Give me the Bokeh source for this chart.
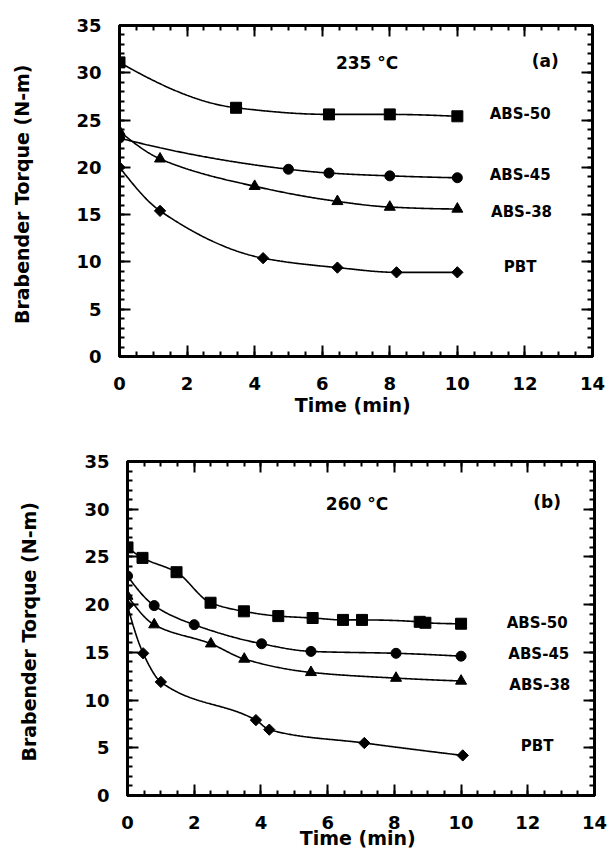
import numpy as np
from bokeh.plotting import figure
from bokeh.models import (Range1d, SingleIntervalTicker, LinearAxis, Label,
                          CustomJSTickFormatter)
from bokeh.embed import file_html
from bokeh.resources import INLINE

# ---------------- data ----------------
# (a) 235 °C
t50a = [0.0, 3.45, 6.2, 8.0, 10.0]
y50a = [31.1, 26.3, 25.6, 25.6, 25.4]
t45a = [0.0, 5.0, 6.2, 8.0, 10.0]
y45a = [23.1, 19.8, 19.4, 19.1, 18.9]
t38a = [0.0, 1.2, 4.0, 6.45, 8.0, 10.0]
y38a = [23.8, 20.9, 18.0, 16.4, 15.8, 15.6]
tpba = [0.0, 1.2, 4.25, 6.45, 8.2, 10.0]
ypba = [20.0, 15.4, 10.4, 9.4, 8.9, 8.9]

# (b) 260 °C
t50b = [0.0, 0.45, 1.47, 2.49, 3.49, 4.52, 5.55, 6.46, 7.03, 8.76, 8.93, 10.0]
y50b = [26.0, 24.9, 23.4, 20.2, 19.3, 18.8, 18.6, 18.4, 18.4, 18.2, 18.1, 18.0]
t45b = [0.0, 0.8, 2.0, 4.02, 5.5, 8.05, 10.0]
y45b = [23.0, 19.9, 17.9, 15.9, 15.1, 14.9, 14.6]
t38b = [0.0, 0.8, 2.5, 3.5, 5.5, 8.05, 10.0]
y38b = [20.9, 17.9, 15.9, 14.3, 12.9, 12.3, 12.0]
tpbb = [0.0, 0.47, 1.0, 3.85, 4.25, 7.1, 10.05]
ypbb = [19.9, 14.9, 11.9, 7.9, 6.9, 5.5, 4.2]

series_names = ["ABS-50", "ABS-45", "ABS-38", "PBT"]
x_axis_label = "Time  (min)"
y_axis_label = "Brabender Torque  (N-m)"

FONT = "DejaVu Sans"


def pchip(x, y, n=300):
    x = np.asarray(x, float)
    y = np.asarray(y, float)
    h = np.diff(x)
    delta = np.diff(y) / h
    m = len(x)
    d = np.zeros(m)
    for k in range(1, m - 1):
        if delta[k - 1] * delta[k] > 0:
            w1 = 2 * h[k] + h[k - 1]
            w2 = h[k] + 2 * h[k - 1]
            d[k] = (w1 + w2) / (w1 / delta[k - 1] + w2 / delta[k])
    if m > 2:
        d0 = ((2 * h[0] + h[1]) * delta[0] - h[0] * delta[1]) / (h[0] + h[1])
        if np.sign(d0) != np.sign(delta[0]):
            d0 = 0
        elif np.sign(delta[0]) != np.sign(delta[1]) and abs(d0) > abs(3 * delta[0]):
            d0 = 3 * delta[0]
        d[0] = d0
        dn = ((2 * h[-1] + h[-2]) * delta[-1] - h[-1] * delta[-2]) / (h[-1] + h[-2])
        if np.sign(dn) != np.sign(delta[-1]):
            dn = 0
        elif np.sign(delta[-1]) != np.sign(delta[-2]) and abs(dn) > abs(3 * delta[-1]):
            dn = 3 * delta[-1]
        d[-1] = dn
    else:
        d[:] = delta[0]
    xs = np.linspace(x[0], x[-1], n)
    idx = np.clip(np.searchsorted(x, xs, side="right") - 1, 0, m - 2)
    hh = h[idx]
    t = (xs - x[idx]) / hh
    h00 = 2 * t**3 - 3 * t**2 + 1
    h10 = t**3 - 2 * t**2 + t
    h01 = -2 * t**3 + 3 * t**2
    h11 = t**3 - t**2
    ys = h00 * y[idx] + h10 * hh * d[idx] + h01 * y[idx + 1] + h11 * hh * d[idx + 1]
    return xs, ys


def style_axis(ax, labels=True):
    ax.axis_line_width = 3
    ax.axis_line_color = "black"
    ax.major_tick_in = 11
    ax.major_tick_out = 0
    ax.minor_tick_in = 5
    ax.minor_tick_out = 0
    ax.major_tick_line_width = 2
    ax.minor_tick_line_width = 2
    ax.major_tick_line_color = "black"
    ax.minor_tick_line_color = "black"
    ax.major_label_text_font = FONT
    ax.major_label_text_font_style = "bold"
    ax.major_label_text_color = "black"
    ax.axis_label_text_font = FONT
    ax.axis_label_text_font_style = "bold"
    ax.axis_label_text_color = "black"
    if labels:
        ax.major_label_text_font_size = "18px"
        ax.axis_label_text_font_size = "19px"
    else:
        ax.formatter = CustomJSTickFormatter(code="return ''")
        ax.major_label_text_font_size = "1px"
        ax.major_label_standoff = 0


def panel(width, height, mbl, mbr, mbt, mbb, data, texts, xstand, xlab_stand, ylab_stand):
    p = figure(width=width, height=height, x_range=Range1d(0, 14), y_range=Range1d(0, 35),
               output_backend="svg", toolbar_location=None,
               min_border_left=mbl, min_border_right=mbr,
               min_border_top=mbt, min_border_bottom=mbb)
    p.xgrid.visible = False
    p.ygrid.visible = False
    p.outline_line_color = "black"
    p.outline_line_width = 3
    p.background_fill_color = "white"
    p.border_fill_color = "white"

    xt = lambda: SingleIntervalTicker(interval=2, num_minor_ticks=4)
    yt = lambda: SingleIntervalTicker(interval=5, num_minor_ticks=5)

    p.xaxis[0].ticker = xt()
    p.yaxis[0].ticker = yt()
    style_axis(p.xaxis[0])
    style_axis(p.yaxis[0])
    p.xaxis[0].axis_label = x_axis_label
    p.yaxis[0].axis_label = y_axis_label
    p.xaxis[0].major_label_standoff = xstand
    p.yaxis[0].major_label_standoff = 18
    p.xaxis[0].axis_label_standoff = xlab_stand
    p.yaxis[0].axis_label_standoff = ylab_stand

    top = LinearAxis(ticker=xt())
    style_axis(top, labels=False)
    p.add_layout(top, "above")
    right = LinearAxis(ticker=yt())
    style_axis(right, labels=False)
    p.add_layout(right, "right")

    markers = [("square", 11, 0.0), ("circle", 10, 0.0), ("triangle", 11, 0.0),
               ("square", 8, np.pi / 4)]
    for (t, y), (mk, sz, ang) in zip(data, markers):
        xs, ys = pchip(t, y)
        p.line(xs, ys, line_color="black", line_width=1.6)
        p.scatter(t, y, marker=mk, size=sz, angle=ang, fill_color="black",
                  line_color="black")

    for txt, x, y, fs in texts:
        p.add_layout(Label(x=x, y=y, text=txt, text_font=FONT, text_font_style="bold",
                           text_font_size=fs, text_align="center",
                           text_baseline="middle", text_color="black"))
    return p


texts_a = [("235 °C", 7.33, 31.0, "17px"), ("(a)", 12.6, 31.2, "17px"),
           (series_names[0], 11.86, 25.6, "15px"), (series_names[1], 11.86, 19.2, "15px"),
           (series_names[2], 11.9, 15.3, "15px"), (series_names[3], 11.86, 9.5, "15px")]
texts_b = [("260 °C", 6.88, 30.55, "17px"), ("(b)", 12.58, 30.8, "17px"),
           (series_names[0], 12.28, 18.05, "15px"), (series_names[1], 12.33, 14.8, "15px"),
           (series_names[2], 12.36, 11.57, "15px"), (series_names[3], 12.28, 5.22, "15px")]

p1 = panel(607, 418, 119, 15, 25, 62,
           [(t50a, y50a), (t45a, y45a), (t38a, y38a), (tpba, ypba)], texts_a,
           20, 1, 40)
p2 = panel(607, 433, 127, 13, 43, 56,
           [(t50b, y50b), (t45b, y45b), (t38b, y38b), (tpbb, ypbb)], texts_b,
           20, -5, 41)

open("out.html", "w").write(file_html([p1, p2], INLINE))
